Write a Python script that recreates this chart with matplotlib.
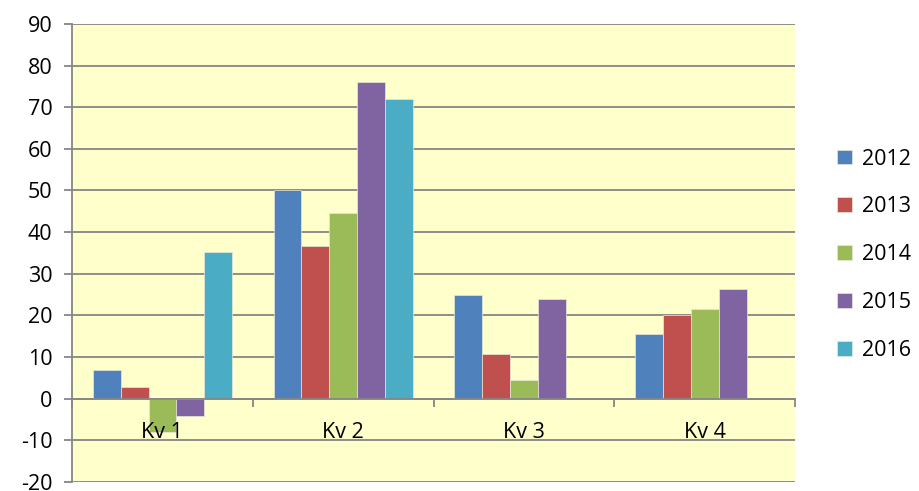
import numpy as np
import matplotlib
matplotlib.use("Agg")
import matplotlib.pyplot as plt

quarters = ["Kv 1", "Kv 2", "Kv 3", "Kv 4"]
years = ["2012", "2013", "2014", "2015", "2016"]
v2012 = [7.0, 50.2, 25.0, 15.5]
v2013 = [2.7, 36.6, 10.8, 20.0]
v2014 = [-8.1, 44.5, 4.4, 21.5]
v2015 = [-4.2, 76.0, 23.9, 26.4]
v2016 = [35.2, 72.0, np.nan, np.nan]
colors = ["#4F81BD", "#C0504D", "#9BBB59", "#8064A2", "#4BACC6"]

plt.rcParams["font.family"] = ["Open Sans", "DejaVu Sans"]
plt.rcParams["axes.unicode_minus"] = False

fig = plt.figure(figsize=(9.2, 4.91), dpi=100)
ax = fig.add_axes([0.0783, 0.0183, 0.786, 0.933])
ax.set_facecolor("#FFFFCC")

x = np.arange(len(quarters))
w = 0.154
series = [v2012, v2013, v2014, v2015, v2016]
handles = []
for i, (vals, c) in enumerate(zip(series, colors)):
    b = ax.bar(x + (i - 2) * w, vals, width=w, color=c, edgecolor="#E8E8D8",
               linewidth=0.5, zorder=3)
    handles.append(b)

grid_c = "#868686"
ax.set_ylim(-20, 90)
ax.set_xlim(-0.5, 3.5)
ax.set_yticks(np.arange(-20, 91, 10))
ax.yaxis.grid(True, color=grid_c, linewidth=1.3)
ax.set_axisbelow(True)

for s in ["top", "right"]:
    ax.spines[s].set_visible(False)
ax.spines["left"].set_color(grid_c)
ax.spines["left"].set_linewidth(1.3)
ax.spines["bottom"].set_position(("data", 0))
ax.spines["bottom"].set_color(grid_c)
ax.spines["bottom"].set_linewidth(1.3)
ax.spines["bottom"].set_zorder(4)

ax.tick_params(axis="y", direction="out", length=6, width=1.3, color=grid_c,
               labelsize=15.5, pad=8)
ax.set_xticks(np.arange(-0.5, 3.6, 1.0))
ax.set_xticklabels([])
ax.tick_params(axis="x", which="major", direction="out", length=6, width=1.3, color=grid_c)
ax.set_xticks(x, minor=True)
ax.set_xticklabels(quarters, minor=True)
ax.tick_params(axis="x", which="minor", length=0, labelsize=15.5, pad=17)
# category labels sit on top of the bars, like the original
ax.xaxis.set_zorder(5)

fig.legend(handles, years, loc="center left", bbox_to_anchor=(0.889, 0.481),
           frameon=False, fontsize=15.5, handlelength=0.68, handleheight=0.68,
           handletextpad=0.45, labelspacing=1.25)

fig.savefig("out.png", dpi=100, facecolor="white")
